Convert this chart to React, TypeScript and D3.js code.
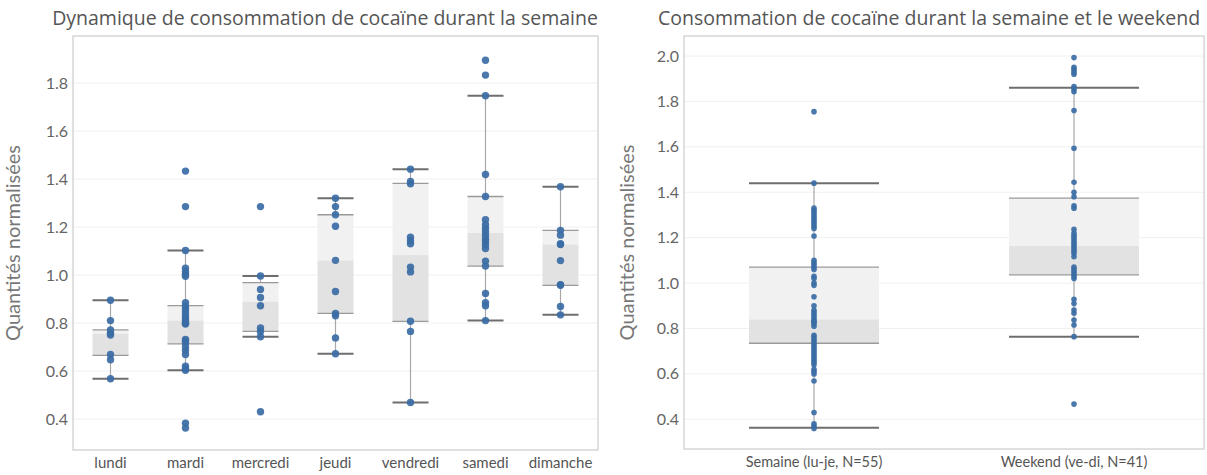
import React from "react";
import * as d3 from "d3";

// ---------- Left panel data (daily) ----------
const days = ["lundi", "mardi", "mercredi", "jeudi", "vendredi", "samedi", "dimanche"];
const lundi = [0.895, 0.81, 0.771, 0.757, 0.75, 0.669, 0.647, 0.568];
const mardi = [1.433, 1.285, 1.102, 1.028, 1.014, 1.003, 0.995, 0.885, 0.87, 0.858, 0.845, 0.83, 0.82, 0.81, 0.80, 0.796, 0.731, 0.725, 0.717, 0.70, 0.686, 0.669, 0.62, 0.61, 0.603, 0.382, 0.362, 0.80];
const mercredi = [1.285, 0.996, 0.94, 0.906, 0.872, 0.779, 0.765, 0.743, 0.43];
const jeudi = [1.32, 1.285, 1.251, 1.203, 1.061, 0.931, 0.84, 0.83, 0.738, 0.672];
const vendredi = [1.441, 1.39, 1.38, 1.157, 1.143, 1.13, 1.033, 1.013, 0.807, 0.765, 0.469];
const samedi = [1.895, 1.833, 1.747, 1.419, 1.327, 1.23, 1.21, 1.195, 1.18, 1.165, 1.15, 1.14, 1.125, 1.11, 1.058, 1.037, 0.923, 0.885, 0.872, 0.81];
const dimanche = [1.368, 1.186, 1.166, 1.13, 1.127, 1.06, 0.96, 0.957, 0.869, 0.834];
const dayValues = [lundi, mardi, mercredi, jeudi, vendredi, samedi, dimanche];
const dayQ1 = [0.665, 0.713, 0.765, 0.84, 0.807, 1.037, 0.957];
const dayMedian = [0.755, 0.81, 0.889, 1.06, 1.083, 1.175, 1.127];
const dayQ3 = [0.771, 0.872, 0.968, 1.251, 1.382, 1.327, 1.186];
const dayWhiskerLow = [0.568, 0.603, 0.743, 0.672, 0.469, 0.81, 0.834];
const dayWhiskerHigh = [0.895, 1.102, 0.996, 1.32, 1.441, 1.747, 1.368];
const leftTicks = [0.4, 0.6, 0.8, 1.0, 1.2, 1.4, 1.6, 1.8];

// ---------- Right panel data (week vs weekend) ----------
const periods = ["Semaine (lu-je, N=55)", "Weekend (ve-di, N=41)"];
const semaine = [1.755, 1.44, 1.33, 1.32, 1.31, 1.30, 1.29, 1.28, 1.27, 1.26, 1.25, 1.24, 1.207, 1.10, 1.09, 1.08, 1.07, 1.06, 1.03, 1.02, 1.0, 0.99, 0.94, 0.90, 0.88, 0.87, 0.86, 0.85, 0.84, 0.83, 0.83, 0.82, 0.81, 0.77, 0.76, 0.75, 0.74, 0.73, 0.72, 0.71, 0.70, 0.69, 0.68, 0.67, 0.66, 0.65, 0.64, 0.62, 0.61, 0.60, 0.569, 0.43, 0.38, 0.37, 0.36];
const weekend = [1.993, 1.95, 1.94, 1.93, 1.92, 1.865, 1.855, 1.843, 1.76, 1.594, 1.444, 1.40, 1.38, 1.34, 1.33, 1.237, 1.22, 1.21, 1.20, 1.19, 1.18, 1.17, 1.16, 1.15, 1.14, 1.13, 1.116, 1.07, 1.06, 1.05, 1.04, 1.03, 1.02, 0.929, 0.91, 0.881, 0.867, 0.837, 0.815, 0.764, 0.467];
const periodValues = [semaine, weekend];
const periodQ1 = [0.735, 1.036];
const periodMedian = [0.84, 1.163];
const periodQ3 = [1.07, 1.374];
const periodWhiskerLow = [0.363, 0.764];
const periodWhiskerHigh = [1.44, 1.86];
const rightTicks = [0.4, 0.6, 0.8, 1.0, 1.2, 1.4, 1.6, 1.8, 2.0];

const titleLeft = "Dynamique de consommation de cocaïne durant la semaine";
const titleRight = "Consommation de cocaïne durant la semaine et le weekend";
const yTitle = "Quantités normalisées";

const DOT = "#3b6ca5";
const LABEL_FONT = "Lato, 'Open Sans', sans-serif";
const TITLE_FONT = "'Open Sans', 'Noto Sans', sans-serif";

type PanelProps = {
  frame: { x0: number; x1: number; y0: number; y1: number };
  cats: string[];
  values: number[][];
  q1: number[];
  med: number[];
  q3: number[];
  wLo: number[];
  wHi: number[];
  ticks: number[];
  yDomain: [number, number];
  yRange: [number, number];
  boxFrac: number;
  r: number;
  title: string;
  titleX: number;
  yTitleX: number;
  catFont: number;
};

function Panel(p: PanelProps) {
  const x = d3.scaleBand<string>().domain(p.cats).range([p.frame.x0, p.frame.x1]).padding(0);
  const y = d3.scaleLinear().domain(p.yDomain).range(p.yRange);
  const bw = x.bandwidth() * p.boxFrac;
  const { x0, x1, y0, y1 } = p.frame;
  return (
    <g>
      <text x={p.titleX} y={25} textAnchor="middle" fontFamily={TITLE_FONT} fontSize={19.5} fill="#555">
        {p.title}
      </text>
      {p.ticks.map((t) => (
        <line key={"g" + t} x1={x0} x2={x1} y1={y(t)} y2={y(t)} stroke="#f0f0f0" strokeWidth={1} />
      ))}
      <rect x={x0} y={y0} width={x1 - x0} height={y1 - y0} fill="none" stroke="#d6d6d6" strokeWidth={1.5} />
      {p.ticks.map((t) => (
        <text key={"t" + t} x={x0 - 5} y={y(t)} dy="0.35em" textAnchor="end" fontFamily={LABEL_FONT} fontSize={16} fill="#666">
          {t.toFixed(1)}
        </text>
      ))}
      <text
        transform={`translate(${p.yTitleX},${(y0 + y1) / 2}) rotate(-90)`}
        textAnchor="middle"
        fontFamily={LABEL_FONT}
        fontSize={20}
        fill="#777"
      >
        {yTitle}
      </text>
      {p.cats.map((c, i) => {
        const cx = (x(c) as number) + x.bandwidth() / 2;
        const left = cx - bw / 2;
        return (
          <g key={c}>
            <line x1={cx} x2={cx} y1={y(p.wLo[i])} y2={y(p.wHi[i])} stroke="#a8a8a8" strokeWidth={1.2} />
            <rect x={left} y={y(p.q3[i])} width={bw} height={y(p.med[i]) - y(p.q3[i])} fill="#f1f1f1" />
            <rect x={left} y={y(p.med[i])} width={bw} height={y(p.q1[i]) - y(p.med[i])} fill="#e2e2e2" />
            <line x1={left} x2={left + bw} y1={y(p.q3[i])} y2={y(p.q3[i])} stroke="#9a9a9a" strokeWidth={1.3} />
            <line x1={left} x2={left + bw} y1={y(p.q1[i])} y2={y(p.q1[i])} stroke="#9a9a9a" strokeWidth={1.3} />
            <line x1={left} x2={left + bw} y1={y(p.wHi[i])} y2={y(p.wHi[i])} stroke="#6e6e6e" strokeWidth={2} />
            <line x1={left} x2={left + bw} y1={y(p.wLo[i])} y2={y(p.wLo[i])} stroke="#6e6e6e" strokeWidth={2} />
            {p.values[i].map((v, j) => (
              <circle key={j} cx={cx} cy={y(v)} r={p.r} fill={DOT} fillOpacity={0.92} />
            ))}
            <text x={cx} y={y1 + 13} dy="0.35em" textAnchor="middle" fontFamily={LABEL_FONT} fontSize={p.catFont} fill="#555">
              {c}
            </text>
          </g>
        );
      })}
    </g>
  );
}

export default function App() {
  return (
    <svg width={1207} height={475} style={{ position: "absolute", left: 0, top: 0, background: "#fff" }}>
      <rect x={0} y={0} width={1207} height={475} fill="#fff" />
      <Panel
        frame={{ x0: 73, x1: 598, y0: 36, y1: 450 }}
        cats={days}
        values={dayValues}
        q1={dayQ1}
        med={dayMedian}
        q3={dayQ3}
        wLo={dayWhiskerLow}
        wHi={dayWhiskerHigh}
        ticks={leftTicks}
        yDomain={[0.4, 1.8]}
        yRange={[419, 83]}
        boxFrac={0.48}
        r={3.7}
        title={titleLeft}
        titleX={325}
        yTitleX={20}
        catFont={15}
      />
      <Panel
        frame={{ x0: 684, x1: 1204, y0: 36, y1: 449 }}
        cats={periods}
        values={periodValues}
        q1={periodQ1}
        med={periodMedian}
        q3={periodQ3}
        wLo={periodWhiskerLow}
        wHi={periodWhiskerHigh}
        ticks={rightTicks}
        yDomain={[0.4, 2.0]}
        yRange={[419.3, 56]}
        boxFrac={0.5}
        r={2.8}
        title={titleRight}
        titleX={929}
        yTitleX={634}
        catFont={14.5}
      />
    </svg>
  );
}
